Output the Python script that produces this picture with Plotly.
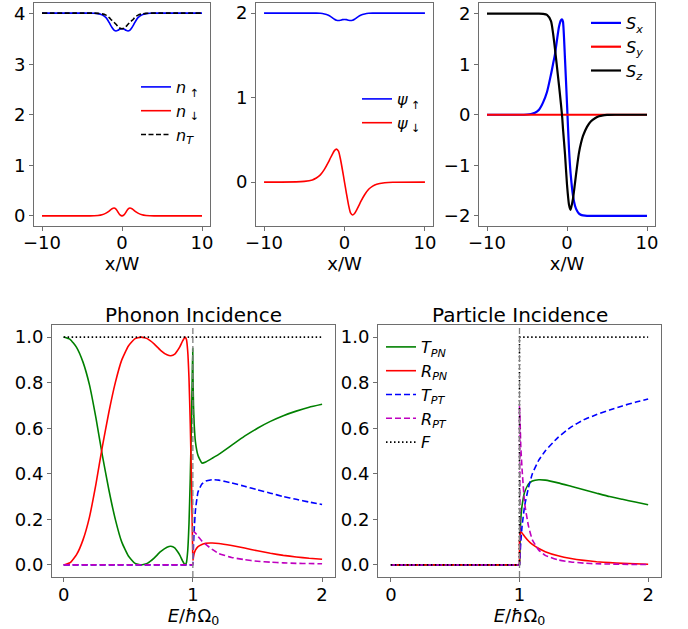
import plotly.graph_objects as go

# ---------------- top row: soliton profiles ----------------
x_prof = [-10, -6, -5, -4, -3.5, -3, -2.5, -2, -1.75, -1.5, -1.25, -1, -0.75, -0.5, -0.25,
          0, 0.25, 0.5, 0.75, 1, 1.25, 1.5, 1.75, 2, 2.5, 3, 3.5, 4, 5, 6, 10]

n_up = [4.01, 4.01, 4.01, 4.01, 4.008, 4.0, 3.975, 3.92, 3.865, 3.795, 3.725, 3.675, 3.655, 3.67, 3.695,
        3.70, 3.695, 3.67, 3.655, 3.675, 3.725, 3.795, 3.865, 3.92, 3.975, 4.0, 4.008, 4.01, 4.01, 4.01, 4.01]
n_down = [0, 0, 0, 0.001, 0.003, 0.008, 0.022, 0.055, 0.08, 0.11, 0.14, 0.155, 0.135, 0.075, 0.02,
          0, 0.02, 0.075, 0.135, 0.155, 0.14, 0.11, 0.08, 0.055, 0.022, 0.008, 0.003, 0.001, 0, 0, 0]
n_tot = [4.01, 4.01, 4.01, 4.01, 4.01, 4.005, 3.995, 3.97, 3.945, 3.905, 3.865, 3.83, 3.79, 3.745, 3.71,
         3.70, 3.71, 3.745, 3.79, 3.83, 3.865, 3.905, 3.945, 3.97, 3.995, 4.005, 4.01, 4.01, 4.01, 4.01, 4.01]

psi_up = [2.0, 2.0, 2.0, 2.0, 2.0, 1.998, 1.99, 1.975, 1.962, 1.945, 1.928, 1.916, 1.912, 1.916, 1.923,
          1.925, 1.923, 1.916, 1.912, 1.916, 1.928, 1.945, 1.962, 1.975, 1.99, 1.998, 2.0, 2.0, 2.0, 2.0, 2.0]
psi_down = [0, 0.002, 0.008, 0.025, 0.048, 0.085, 0.15, 0.235, 0.285, 0.332, 0.372, 0.39, 0.365, 0.27, 0.14,
            0, -0.14, -0.27, -0.365, -0.39, -0.372, -0.332, -0.285, -0.235, -0.15, -0.085, -0.048, -0.025, -0.008, -0.002, 0]

x_spin = [-10, -6, -5, -4.5, -4, -3.5, -3, -2.5, -2, -1.75, -1.5, -1.25, -1, -0.75, -0.6, -0.5, -0.25,
          0, 0.25, 0.45, 0.75, 1, 1.25, 1.5, 1.75, 2, 2.5, 3, 3.5, 4, 4.5, 5, 6, 10]
S_x = [0, 0, 0.005, 0.015, 0.04, 0.1, 0.24, 0.45, 0.8, 1.0, 1.2, 1.48, 1.74, 1.87, 1.885, 1.84, 1.1,
       0.22, -0.68, -1.16, -1.6, -1.8, -1.9, -1.955, -1.98, -1.99, -2.0, -2.0, -2.0, -2.0, -2.0, -2.0, -2.0, -2.0]
S_y = [0] * len(x_spin)
S_z = [2.0, 2.0, 2.0, 2.0, 2.0, 2.0, 1.995, 1.975, 1.85, 1.62, 1.3, 0.94, 0.58, 0.2, -0.05, -0.28, -0.78,
       -1.38, -1.78, -1.88, -1.66, -1.35, -1.03, -0.75, -0.56, -0.42, -0.24, -0.13, -0.07, -0.03, -0.012, -0.004, 0, 0]

# ---------------- bottom left: phonon incidence ----------------
E_ph = [0, 0.05, 0.1, 0.15, 0.2, 0.25, 0.3, 0.35, 0.4, 0.45, 0.5, 0.55, 0.6, 0.65, 0.7, 0.75, 0.8,
        0.83, 0.86, 0.88, 0.9, 0.92, 0.94, 0.95, 0.96, 0.97, 0.98, 0.99, 0.995, 0.999,
        1.001, 1.005, 1.01, 1.02, 1.04, 1.07, 1.1, 1.15, 1.2, 1.3, 1.4, 1.5, 1.6, 1.7, 1.8, 1.9, 2.0]
T_PN_ph = [1.0, 0.99, 0.955, 0.89, 0.79, 0.645, 0.48, 0.33, 0.2, 0.1, 0.04, 0.008, 0.0, 0.008, 0.03, 0.058, 0.078,
           0.082, 0.075, 0.06, 0.042, 0.018, 0.0, 0.01, 0.06, 0.18, 0.38, 0.65, 0.82, 0.95,
           0.83, 0.70, 0.62, 0.54, 0.48, 0.447, 0.452, 0.468, 0.485, 0.525, 0.565, 0.60, 0.63, 0.655, 0.675, 0.692, 0.705]
R_PN_ph = [0.0, 0.01, 0.045, 0.11, 0.21, 0.355, 0.52, 0.67, 0.8, 0.9, 0.96, 0.992, 1.0, 0.992, 0.97, 0.942, 0.922,
           0.918, 0.925, 0.94, 0.958, 0.982, 1.0, 0.99, 0.94, 0.82, 0.62, 0.35, 0.18, 0.05,
           0.02, 0.035, 0.05, 0.065, 0.08, 0.09, 0.095, 0.096, 0.094, 0.085, 0.074, 0.062, 0.051, 0.042, 0.035, 0.029, 0.025]
T_PT_ph = [0] * 30 + [0.02, 0.09, 0.15, 0.24, 0.32, 0.355, 0.368, 0.374, 0.372, 0.36, 0.345, 0.33, 0.315, 0.30, 0.288, 0.276, 0.265]
R_PT_ph = [0] * 30 + [0.148, 0.148, 0.145, 0.14, 0.125, 0.105, 0.09, 0.068, 0.05, 0.033, 0.023, 0.016, 0.012, 0.009, 0.007, 0.006, 0.005]
F_ph = [1.0] * len(E_ph)

# ---------------- bottom right: particle incidence ----------------
E_pa = [0, 0.5, 0.9, 0.98, 0.995, 0.999, 1.0, 1.005, 1.01, 1.02, 1.04, 1.07, 1.1, 1.15, 1.2, 1.3, 1.4, 1.5, 1.6, 1.7, 1.8, 1.9, 2.0]
T_PN_pa = [0, 0, 0, 0, 0, 0, 0, 0.12, 0.2, 0.26, 0.32, 0.355, 0.368, 0.374, 0.372, 0.36, 0.345, 0.33, 0.315, 0.30, 0.288, 0.276, 0.264]
R_PN_pa = [0, 0, 0, 0, 0, 0, 0.1, 0.14, 0.145, 0.14, 0.125, 0.105, 0.09, 0.072, 0.058, 0.04, 0.028, 0.02, 0.014, 0.01, 0.007, 0.005, 0.003]
T_PT_pa = [0, 0, 0, 0, 0, 0, 0, 0.05, 0.1, 0.17, 0.26, 0.34, 0.4, 0.46, 0.5, 0.56, 0.605, 0.637, 0.66, 0.68, 0.698, 0.714, 0.728]
R_PT_pa = [0, 0, 0, 0, 0, 0, 0.70, 0.62, 0.52, 0.42, 0.27, 0.17, 0.11, 0.065, 0.042, 0.022, 0.013, 0.008, 0.005, 0.004, 0.003, 0.002, 0.002]
F_pa = [0, 0, 0, 0, 0, 0, 1, 1, 1, 1, 1, 1, 1, 1, 1, 1, 1, 1, 1, 1, 1, 1, 1]

FONT = "DejaVu Sans"
W, H = 688, 629
DASH = "6px,3px"
DASH_N = "5px,2.5px"
DOT = "1.5px,2.5px"
MAG = "#bf00bf"

fig = go.Figure()


def add(x, y, name, color, xa, ya, dash="solid", width=1.6, legend=None, shape="spline", smoothing=0.6):
    fig.add_trace(go.Scatter(
        x=x, y=y, name=name, mode="lines",
        line=dict(color=color, width=width, dash=dash, shape=shape, smoothing=smoothing),
        xaxis=xa, yaxis=ya, showlegend=legend is not None,
        legend=legend if legend else "legend"))


# panel 1
add(x_prof, n_up, "<i>n</i><sub> ↑</sub>", "blue", "x", "y", legend="legend")
add(x_prof, n_down, "<i>n</i><sub> ↓</sub>", "red", "x", "y", legend="legend")
add(x_prof, n_tot, "<i>n</i><sub><i>T</i></sub>", "black", "x", "y", dash=DASH_N, legend="legend")
# panel 2
add(x_prof, psi_up, "<i>ψ</i><sub> ↑</sub>", "blue", "x2", "y2", legend="legend2")
add(x_prof, psi_down, "<i>ψ</i><sub> ↓</sub>", "red", "x2", "y2", legend="legend2")
# panel 3
add(x_spin, S_x, "<i>S</i><sub><i>x</i></sub>", "blue", "x3", "y3", width=2.2, legend="legend3")
add(x_spin, S_y, "<i>S</i><sub><i>y</i></sub>", "red", "x3", "y3", width=2.2, legend="legend3")
add(x_spin, S_z, "<i>S</i><sub><i>z</i></sub>", "black", "x3", "y3", width=2.2, legend="legend3")
# panel 4
add(E_ph, T_PN_ph, "T_PN", "green", "x4", "y4", smoothing=0.4)
add(E_ph, R_PN_ph, "R_PN", "red", "x4", "y4", smoothing=0.4)
add(E_ph, T_PT_ph, "T_PT", "blue", "x4", "y4", dash=DASH, smoothing=0.4)
add(E_ph, R_PT_ph, "R_PT", MAG, "x4", "y4", dash=DASH, smoothing=0.4)
add(E_ph, F_ph, "F", "black", "x4", "y4", dash=DOT, shape="linear")
# panel 5
add(E_pa, T_PN_pa, "<i>T</i><sub><i>PN</i></sub>", "green", "x5", "y5", legend="legend4", smoothing=0.4)
add(E_pa, R_PN_pa, "<i>R</i><sub><i>PN</i></sub>", "red", "x5", "y5", legend="legend4", smoothing=0.4)
add(E_pa, T_PT_pa, "<i>T</i><sub><i>PT</i></sub>", "blue", "x5", "y5", dash=DASH, legend="legend4", smoothing=0.4)
add(E_pa, R_PT_pa, "<i>R</i><sub><i>PT</i></sub>", MAG, "x5", "y5", dash=DASH, legend="legend4", smoothing=0.4)
add(E_pa, F_pa, "<i>F</i>", "black", "x5", "y5", dash=DOT, legend="legend4", shape="linear")


def px_dom_x(a, b):
    return [a / W, b / W]


def px_dom_y(top, bot):
    return [1 - bot / H, 1 - top / H]


axis_common = dict(showline=True, mirror=True, linecolor="#6e6e6e", linewidth=1,
                   ticks="outside", ticklen=4, tickcolor="#6e6e6e", showgrid=False, zeroline=False,
                   automargin=False, tickfont=dict(family=FONT, size=18, color="black"))
title_font = dict(family=FONT, size=18, color="black")

lay = dict(
    width=W, height=H, margin=dict(l=0, r=0, t=0, b=0, pad=0, autoexpand=False),
    paper_bgcolor="white", plot_bgcolor="white", hovermode=False,
    font=dict(family=FONT, color="black"),
)
top_y = px_dom_y(3, 226)
bot_y = px_dom_y(325, 577)
xd = {1: px_dom_x(34, 210), 2: px_dom_x(256, 433), 3: px_dom_x(479, 655),
      4: px_dom_x(52, 335), 5: px_dom_x(378, 661)}
xr = {1: [-11, 11], 2: [-11, 11], 3: [-11, 11], 4: [-0.09, 2.1], 5: [-0.1, 2.1]}
yr = {1: [-0.2, 4.21], 2: [-0.52, 2.12], 3: [-2.2, 2.21], 4: [-0.053, 1.053], 5: [-0.053, 1.053]}
ytv = {1: [0, 1, 2, 3, 4], 2: [0, 1, 2], 3: [-2, -1, 0, 1, 2],
       4: [0, 0.2, 0.4, 0.6, 0.8, 1.0], 5: [0, 0.2, 0.4, 0.6, 0.8, 1.0]}
for i in range(1, 6):
    s = "" if i == 1 else str(i)
    top = i <= 3
    lay["xaxis" + s] = dict(axis_common, domain=xd[i], range=xr[i], anchor="y" + s,
                            tickvals=[-10, 0, 10] if top else [0, 1, 2],
                            ticklabelstandoff=-4 if top else -3,
                            title=dict(text="x/W" if top else "<i>E</i>/<i>ħ</i>Ω<sub>0</sub>",
                                       font=title_font, standoff=0))
    lay["yaxis" + s] = dict(axis_common, domain=top_y if top else bot_y, range=yr[i], anchor="x" + s,
                            tickvals=ytv[i], tickformat=".1f" if i >= 4 else "d")

leg_common = dict(bgcolor="rgba(0,0,0,0)", borderwidth=0, font=dict(family=FONT, size=16, color="black"),
                  xanchor="left", yanchor="top", tracegroupgap=0)
lay["legend"] = dict(leg_common, x=136 / W, y=1 - 70 / H)
lay["legend2"] = dict(leg_common, x=357 / W, y=1 - 82 / H)
lay["legend3"] = dict(leg_common, x=586 / W, y=1 - 6 / H)
lay["legend4"] = dict(leg_common, x=381 / W, y=1 - 330 / H)

fig.update_layout(**lay)

# x = 1 reference lines
for s in ["4", "5"]:
    fig.add_shape(type="line", xref="x" + s, yref="y" + s + " domain", x0=1, x1=1, y0=0, y1=1,
                  line=dict(color="gray", width=1.3, dash=DASH), layer="above")

fig.add_annotation(text="Phonon Incidence", xref="paper", yref="paper", x=193.5 / W, y=1 - 314.5 / H,
                   xanchor="center", yanchor="middle",
                   showarrow=False, font=dict(family=FONT, size=20, color="black"))
fig.add_annotation(text="Particle Incidence", xref="paper", yref="paper", x=519.5 / W, y=1 - 314.5 / H,
                   xanchor="center", yanchor="middle",
                   showarrow=False, font=dict(family=FONT, size=20, color="black"))

fig.write_html("out.html", config={"displayModeBar": False},
               post_script="document.body.style.margin='0px';document.body.style.overflow='hidden';")
